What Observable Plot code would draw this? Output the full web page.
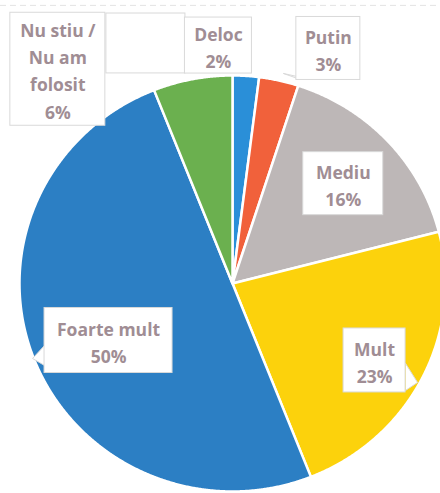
<!DOCTYPE html>
<html><head><meta charset="utf-8">
<script src="https://cdn.jsdelivr.net/npm/d3@7"></script>
<script src="https://cdn.jsdelivr.net/npm/@observablehq/plot@0.6"></script>
<style>body{margin:0;background:#fff;overflow:hidden}</style>
</head><body><div id="chart"></div>
<script>
// ---- data ----
const categories = ["Deloc", "Putin", "Mediu", "Mult", "Foarte mult", "Nu stiu / Nu am folosit"];
const labelTexts = ["Deloc", "Putin", "Mediu", "Mult", "Foarte mult", "Nu stiu /\nNu am\nfolosit"];
const values = [2, 3, 16, 23, 50, 6];
const colors = ["#2a8fd8", "#f1613b", "#bdb7b7", "#fcd20c", "#2c7fc4", "#6bb04f"];

// ---- layout (unit-circle coordinates, pixels for box sizes) ----
const cx = 232, cy = 283, rx = 213, ry = 208;
const labelAt = [[-0.066, 1.144], [0.45, 1.13], [0.52, 0.48], [0.667, -0.37], [-0.582, -0.274], [-0.82, 1.03]];
const boxSize = [[67, 56], [64, 63], [80, 63], [62, 64], [128, 65], [95, 113]];
// callout pointers: [category index, [[px offsets from label centre]...]]
const pointers = [
  [4, [[-64, 5], [-76, 18], [-64, 25]]],
  [3, [[31, 3], [43, 22], [31, 30]]],
  [1, [[-28, 31], [-45, 25], [-18, 31]]]
];

const pie = d3.pie().sort(null).startAngle(0).endAngle(2 * Math.PI)(values);
const pts = [];
pie.forEach((s, i) => {
  const cat = categories[i];
  pts.push({cat, x: 0, y: 0});
  const n = Math.max(4, Math.ceil((s.endAngle - s.startAngle) / 0.005));
  for (let k = 0; k <= n; k++) {
    const a = s.startAngle + (s.endAngle - s.startAngle) * k / n;
    pts.push({cat, x: Math.sin(a), y: Math.cos(a)});
  }
  pts.push({cat, x: 0, y: 0});
});

const labels = categories.map((c, i) => {
  const [u, v] = labelAt[i];
  const [w, h] = boxSize[i];
  return {
    cat: c, x: u, y: v,
    x1: u - w / 2 / rx, x2: u + w / 2 / rx,
    y1: v - h / 2 / ry, y2: v + h / 2 / ry,
    text: labelTexts[i] + "\n" + values[i] + "%"
  };
});

const pointerPts = [];
pointers.forEach(([i, offs], j) => {
  const [u, v] = labelAt[i];
  offs.forEach(([dx, dy]) => pointerPts.push({id: j, x: u + dx / rx, y: v - dy / ry}));
});

const emptyBox = [{x1: -0.592, x2: -0.221, y1: 1.010, y2: 1.298}];

const chart = Plot.plot({
  width: 440, height: 493,
  margin: 0,
  x: {domain: [-1, 1], range: [cx - rx, cx + rx], axis: null},
  y: {domain: [-1, 1], range: [cy + ry, cy - ry], axis: null},
  color: {domain: categories, range: colors},
  style: {background: "#fff", overflow: "visible"},
  marks: [
    Plot.ruleY([1.337], {stroke: "#e4e4e4", strokeDasharray: "6,4", strokeWidth: 1}),
    Plot.line(pts, {x: "x", y: "y", z: "cat", fill: "cat", stroke: "#fff", strokeWidth: 2.5, strokeLinejoin: "round", curve: "linear"}),
    Plot.rect(emptyBox, {x1: "x1", x2: "x2", y1: "y1", y2: "y2", fill: "#fff", stroke: "#d9d9d9", strokeWidth: 1}),
    Plot.line(pointerPts, {x: "x", y: "y", z: "id", fill: "#fff", stroke: "#d9d9d9", strokeWidth: 1, curve: "linear"}),
    Plot.rect(labels, {x1: "x1", x2: "x2", y1: "y1", y2: "y2", fill: "#fff", stroke: "#d9d9d9", strokeWidth: 1}),
    Plot.text(labels, {x: "x", y: "y", text: "text", fill: "#a08d94", fontSize: 17.5, fontWeight: "bold", lineHeight: 1.55, fontFamily: "Open Sans, sans-serif", textAnchor: "middle", lineAnchor: "middle"})
  ]
});
document.getElementById("chart").appendChild(chart);
</script>
</body></html>
